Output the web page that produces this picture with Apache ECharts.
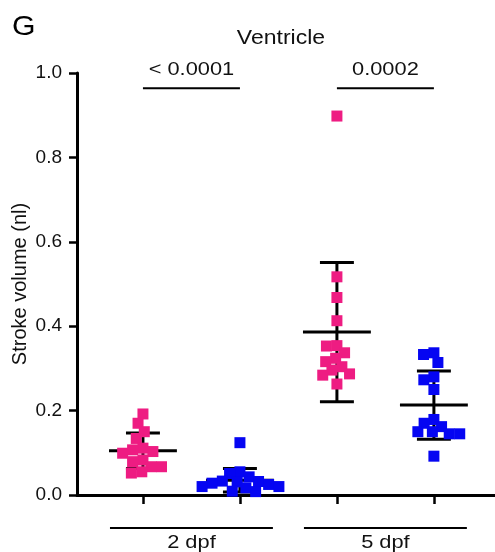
<!DOCTYPE html>
<html><head><meta charset="utf-8">
<script src="https://cdn.jsdelivr.net/npm/echarts@6/dist/echarts.min.js"></script>
<style>html,body{margin:0;padding:0;background:#fff}#c{width:495px;height:552px}</style>
</head><body><div id="c"></div>
<script>
// ---- data ----
const stages = ['2 dpf', '5 dpf'];
const pValues = ['< 0.0001', '0.0002'];
const yTicks = [0, 0.2, 0.4, 0.6, 0.8, 1.0];
const pink2dpf = [0.192, 0.170, 0.150, 0.134, 0.111, 0.107, 0.103, 0.099, 0.083, 0.079, 0.067, 0.067, 0.055, 0.052];
const blue2dpf = [0.124, 0.055, 0.051, 0.043, 0.033, 0.032, 0.031, 0.028, 0.025, 0.020, 0.020, 0.017, 0.009, 0.008];
const pink5dpf = [0.898, 0.517, 0.468, 0.413, 0.354, 0.353, 0.337, 0.324, 0.316, 0.304, 0.296, 0.287, 0.284, 0.263];
const blue5dpf = [0.337, 0.333, 0.314, 0.280, 0.273, 0.250, 0.179, 0.170, 0.162, 0.150, 0.150, 0.145, 0.145, 0.092];
const groupMeans = [0.105, 0.035, 0.386, 0.213];
const groupSDs = [0.042, 0.028, 0.165, 0.081];

const PINK = '#EE1C82';
const BLUE = '#0505F2';
const FONT = '"Liberation Sans", Arial, sans-serif';
const STRETCH = 1.18; // reference text is horizontally widened

const columns = [
  { values: pink2dpf, color: PINK },
  { values: blue2dpf, color: BLUE },
  { values: pink5dpf, color: PINK },
  { values: blue5dpf, color: BLUE }
];
const colX = columns.map((c, i) => i + 1);

const chart = echarts.init(document.getElementById('c'), null, { renderer: 'canvas' });

const baseOption = {
  animation: false,
  backgroundColor: '#fff',
  grid: { left: 77, right: 0, top: 73, bottom: 57, containLabel: false, outerBoundsMode: 'none' },
  xAxis: {
    type: 'value', min: 0.32, max: 4.63,
    axisLine: { show: true, onZero: false, lineStyle: { color: '#000', width: 3 } },
    axisTick: { show: true, length: 9, lineStyle: { color: '#000', width: 2.5 }, customValues: colX },
    axisLabel: { show: false },
    splitLine: { show: false }
  },
  yAxis: {
    type: 'value', min: 0, max: 1, interval: 0.2,
    name: 'Stroke volume (nl)', nameLocation: 'middle', nameGap: 47, nameMoveOverlap: false,
    nameTextStyle: { fontFamily: FONT, fontSize: 20, color: '#111' },
    axisLine: { show: true, lineStyle: { color: '#000', width: 3 } },
    axisTick: { show: true, length: 8, lineStyle: { color: '#000', width: 2.5 } },
    axisLabel: { fontFamily: FONT, fontSize: 19, color: '#111', margin: 15,
      formatter: v => yTicks.some(t => Math.abs(t - v) < 1e-9) ? v.toFixed(1) : '' },
    splitLine: { show: false }
  },
  series: [
    {
      type: 'custom', name: 'mean±SD', z: 2,
      data: colX.map((x, i) => [x, groupMeans[i], groupSDs[i]]),
      renderItem: function (params, api) {
        const x = api.value(0), m = api.value(1), s = api.value(2);
        const st = { stroke: '#000', lineWidth: 3 };
        const seg = (x1, y1, x2, y2) => {
          const a = api.coord([x1, y1]), b = api.coord([x2, y2]);
          return { type: 'line', shape: { x1: a[0], y1: a[1], x2: b[0], y2: b[1] }, style: st };
        };
        return { type: 'group', children: [
          seg(x - 0.35, m, x + 0.35, m),
          seg(x, m - s, x, m + s),
          seg(x - 0.175, m + s, x + 0.175, m + s),
          seg(x - 0.175, m - s, x + 0.175, m - s)
        ]};
      }
    },
    {
      type: 'line', name: 'sig', z: 2, symbol: 'none', silent: true,
      lineStyle: { color: '#000', width: 2 },
      data: []
    }
  ]
};
chart.setOption(baseOption);

// beeswarm layout (circular collision) computed in pixel space through the chart's scales
const pxPerX = chart.convertToPixel({ xAxisIndex: 0 }, 2) - chart.convertToPixel({ xAxisIndex: 0 }, 1);
function swarm(values, xc, d) {
  const order = values.map((v, i) => i).sort((a, b) => values[b] - values[a]);
  const placed = [];
  const res = new Array(values.length);
  for (const i of order) {
    const py = chart.convertToPixel({ yAxisIndex: 0 }, values[i]);
    const cands = [0];
    for (const q of placed) {
      const dy = Math.abs(q.py - py);
      if (dy < d) { const w = Math.sqrt(d * d - dy * dy); cands.push(q.dx + w, q.dx - w); }
    }
    cands.sort((a, b) => Math.abs(a) - Math.abs(b) || a - b);
    let dx = 0;
    for (const c of cands) {
      if (placed.every(q => (q.py - py) ** 2 + (q.dx - c) ** 2 >= d * d - 1e-6)) { dx = c; break; }
    }
    placed.push({ py, dx });
    res[i] = [xc + dx / pxPerX, values[i]];
  }
  return res;
}

const sigY = 0.964;
const scatterSeries = columns.map((c, i) => ({
  type: 'scatter', z: 3, symbol: 'rect', symbolSize: 11,
  itemStyle: { color: c.color, opacity: 1 },
  data: swarm(c.values, colX[i], 10.5)
}));

const sigLine = [];
pValues.forEach((p, k) => {
  sigLine.push([colX[2 * k], sigY], [colX[2 * k + 1], sigY], null);
});

// annotations positioned through the scales
function label(text, x, y, size) {
  return { type: 'text', x, y, scaleX: STRETCH, scaleY: 1,
    style: { text, font: size + 'px ' + FONT, fill: '#111', textAlign: 'center', textVerticalAlign: 'middle' } };
}
const graphics = [];
graphics.push({ type: 'text', x: 12, y: 27, scaleX: 1.08, style: { text: 'G', font: '28px ' + FONT, fill: '#000', textAlign: 'left', textVerticalAlign: 'middle' } });
graphics.push(label('Ventricle', 281, 39, 19.5));
pValues.forEach((p, k) => {
  const xm = (colX[2 * k] + colX[2 * k + 1]) / 2;
  const px = chart.convertToPixel({ xAxisIndex: 0 }, xm);
  const py = chart.convertToPixel({ yAxisIndex: 0 }, sigY);
  graphics.push(label(p, px, py - 18, 18.5));
});
const axisPy = chart.convertToPixel({ yAxisIndex: 0 }, 0);
stages.forEach((s, k) => {
  const x1 = chart.convertToPixel({ xAxisIndex: 0 }, colX[2 * k] - 0.34);
  const x2 = chart.convertToPixel({ xAxisIndex: 0 }, colX[2 * k + 1] + 0.34);
  graphics.push({ type: 'line', shape: { x1, y1: axisPy + 33, x2, y2: axisPy + 33 }, style: { stroke: '#000', lineWidth: 2 } });
  graphics.push(label(s, (x1 + x2) / 2, axisPy + 48, 18.5));
});

chart.setOption({
  series: [{}, { data: sigLine, connectNulls: false }].concat(scatterSeries),
  graphic: graphics
});
</script></body></html>
